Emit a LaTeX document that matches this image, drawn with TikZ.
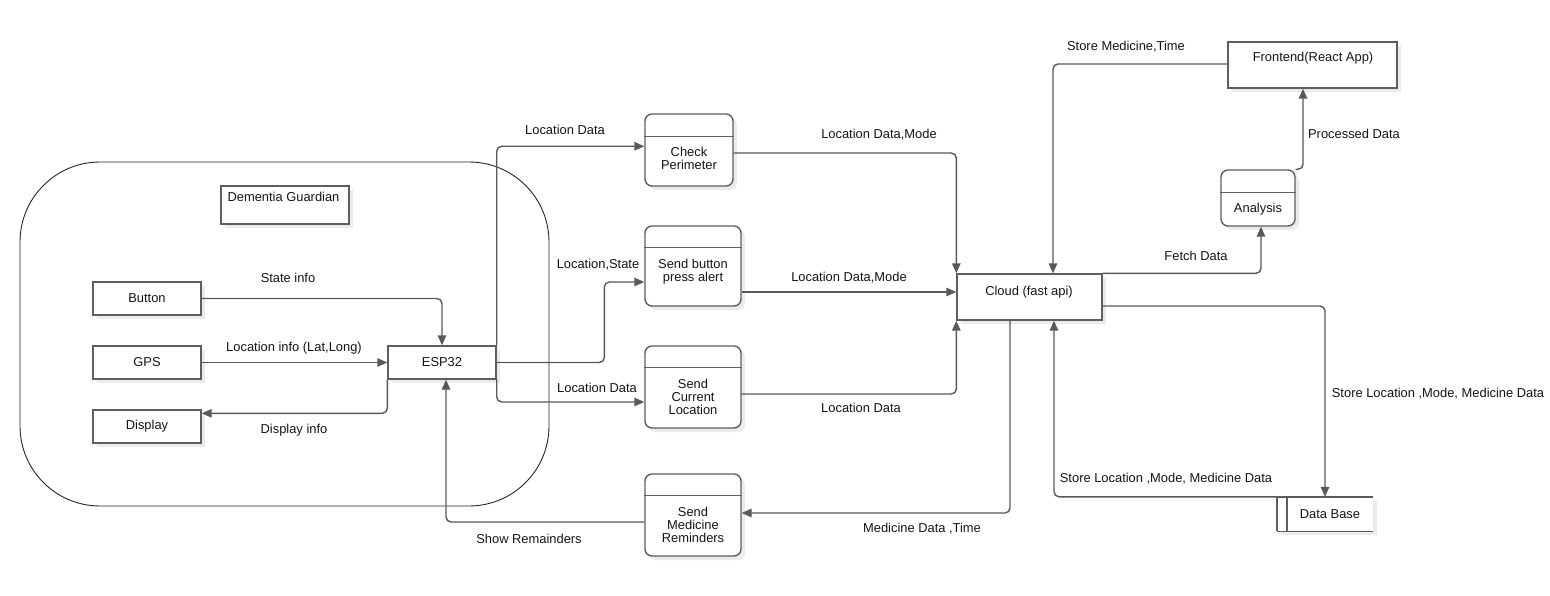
\documentclass[tikz,border=0pt]{standalone}
\usepackage{fontspec}
\setmainfont{Liberation Sans}
\usetikzlibrary{arrows.meta,shadows,calc}
\definecolor{lc}{HTML}{595959}
\definecolor{bc}{HTML}{5E5E5E}
\definecolor{tc}{HTML}{151515}
\tikzset{
  every node/.style={font=\fontsize{12.9}{13}\selectfont, text=tc},
  box/.style={draw=bc, line width=1.4pt, fill=white, inner sep=0pt,
    drop shadow={shadow xshift=4pt, shadow yshift=-4pt, fill=black!8, opacity=1}},
  proc/.style={box, rounded corners=7pt},
  divider/.style={draw=bc, line width=1.4pt},
  conn/.style={draw=lc, line width=1.4pt, rounded corners=5pt,
    -{Triangle[length=10pt,width=8.5pt]}},
  lbl/.style={anchor=base, inner sep=0pt},
  mlbl/.style={anchor=center, align=center, inner sep=0pt},
  container/.style={draw=black!85, line width=0.9pt, fill=white, rounded corners=80pt, inner sep=0pt},
}
\begin{document}
\begin{tikzpicture}[x=1pt,y=-1pt]
\useasboundingbox (0,0) rectangle (1550,596);
\fill[white] (0,0) rectangle (1550,596);

% container
\node[container, minimum width=529pt, minimum height=344pt] (dg) at (284.5,334) {};
\node[box, minimum width=128pt, minimum height=38pt] (dgb) at (285,205) {};
\node[lbl] (dgt) at (283.5,201.5) {Dementia Guardian};

% left boxes
\node[box, minimum width=108pt, minimum height=33pt] (button) at (147,298.5) {Button};
\node[box, minimum width=108pt, minimum height=33pt] (gps) at (147,362.5) {GPS};
\node[box, minimum width=108pt, minimum height=33pt] (display) at (147,426.5) {Display};
\node[box, minimum width=108pt, minimum height=33pt] (esp) at (442,362.5) {ESP32};

% process boxes
\node[proc, minimum width=88pt, minimum height=72pt] (cp) at (689,150) {};
\draw[divider] ([yshift=-23pt]cp.north west) -- ([yshift=-23pt]cp.north east);
\node[mlbl] (cpt) at (689,158.5) {Check\\Perimeter};

\node[proc, minimum width=96pt, minimum height=80pt] (sba) at (693,266) {};
\draw[divider] ([yshift=-22pt]sba.north west) -- ([yshift=-22pt]sba.north east);
\node[mlbl] (sbat) at (693,272) {Send button\\press alert};

\node[proc, minimum width=96pt, minimum height=82pt] (scl) at (693,387) {};
\draw[divider] ([yshift=-22pt]scl.north west) -- ([yshift=-22pt]scl.north east);
\node[mlbl] (sclt) at (693,397) {Send\\Current\\Location};

\node[proc, minimum width=96pt, minimum height=82pt] (smr) at (693,515) {};
\draw[divider] ([yshift=-22pt]smr.north west) -- ([yshift=-22pt]smr.north east);
\node[mlbl] (smrt) at (693,525) {Send\\Medicine\\Reminders};

% cloud, frontend, analysis, database
\node[box, minimum width=145pt, minimum height=46pt] (cloud) at (1029.5,297) {};
\node[lbl] (cloudt) at (1029,295) {Cloud (fast api)};

\node[box, minimum width=169pt, minimum height=46pt] (fe) at (1312.5,65) {};
\node[lbl] (fet) at (1313,62) {Frontend(React App)};

\node[proc, minimum width=74pt, minimum height=56pt] (an) at (1258,198) {};
\draw[divider] ([yshift=-23pt]an.north west) -- ([yshift=-23pt]an.north east);
\node[lbl] (ant) at (1258,213) {Analysis};

\node[inner sep=0pt, minimum width=96pt, minimum height=34pt, fill=black!8] (dbs) at (1329,518) {};
\node[inner sep=0pt, minimum width=96pt, minimum height=34pt, fill=white] (db) at (1325,514) {};
\draw[divider] (db.north west) -- (db.north east);
\draw[divider] (db.south west) -- (db.south east);
\draw[divider] (db.north west) -- (db.south west);
\draw[divider] ([xshift=10pt]db.north west) -- ([xshift=10pt]db.south west);
\node[lbl] (dbt) at (1330,518) {Data Base};

% connectors
\draw[conn] (button.east) -| (esp.north);
\draw[conn] (gps.east) -- (esp.west);
\draw[conn] (esp.south west) |- ([yshift=-4pt]display.north east);
\draw[conn] (esp.north east) |- ([yshift=-33pt]cp.north west);
\draw[conn] (esp.east) -| ([xshift=-40pt,yshift=-16pt]sba.west) -- ([yshift=-16pt]sba.west);
\draw[conn] (esp.south east) |- ([yshift=-15pt]scl.west);
\draw[conn] ([yshift=-3pt]cp.east) -| (cloud.north west);
\draw[conn] ([yshift=-26pt]sba.east) -- ([yshift=5pt]cloud.west);
\draw[conn] ([yshift=-7pt]scl.east) -| (cloud.south west);
\draw[conn] ([xshift=-19.5pt]cloud.south) |- ([yshift=2pt]smr.east);
\draw[conn] ([yshift=-7pt]smr.west) -| ([xshift=4pt]esp.south);
\draw[conn] ([yshift=1pt]fe.west) -| ([xshift=23.5pt]cloud.north);
\draw[conn] (cloud.north east) -| ([xshift=3pt]an.south);
\draw[conn] (an.north east) -| ([xshift=-9.5pt]fe.south);
\draw[conn] ([yshift=-9pt]cloud.east) -| (db.north);
\draw[conn] (db.north west) -| ([xshift=24.5pt]cloud.south);

% labels
\node[lbl] (l1) at (288,282) {State info};
\node[lbl] (l2) at (294,351) {Location info (Lat,Long)};
\node[lbl] (l3) at (294,433) {Display info};
\node[lbl] (l4) at (565,135) {Location Data};
\node[lbl] (l5) at (598,268) {Location,State};
\node[lbl] (l6) at (597,392) {Location Data};
\node[lbl] (l7) at (879,139) {Location Data,Mode};
\node[lbl] (l8) at (849,281) {Location Data,Mode};
\node[lbl] (l9) at (861,412) {Location Data};
\node[lbl] (l10) at (922,532) {Medicine Data ,Time};
\node[lbl] (l11) at (529,543) {Show Remainders};
\node[lbl] (l12) at (1126,51) {Store Medicine,Time};
\node[lbl] (l13) at (1354,139) {Processed Data};
\node[lbl] (l14) at (1196,261) {Fetch Data};
\node[lbl] (l15) at (1438,397) {Store Location ,Mode, Medicine Data};
\node[lbl] (l16) at (1166,482) {Store Location ,Mode, Medicine Data};
\end{tikzpicture}
\end{document}
